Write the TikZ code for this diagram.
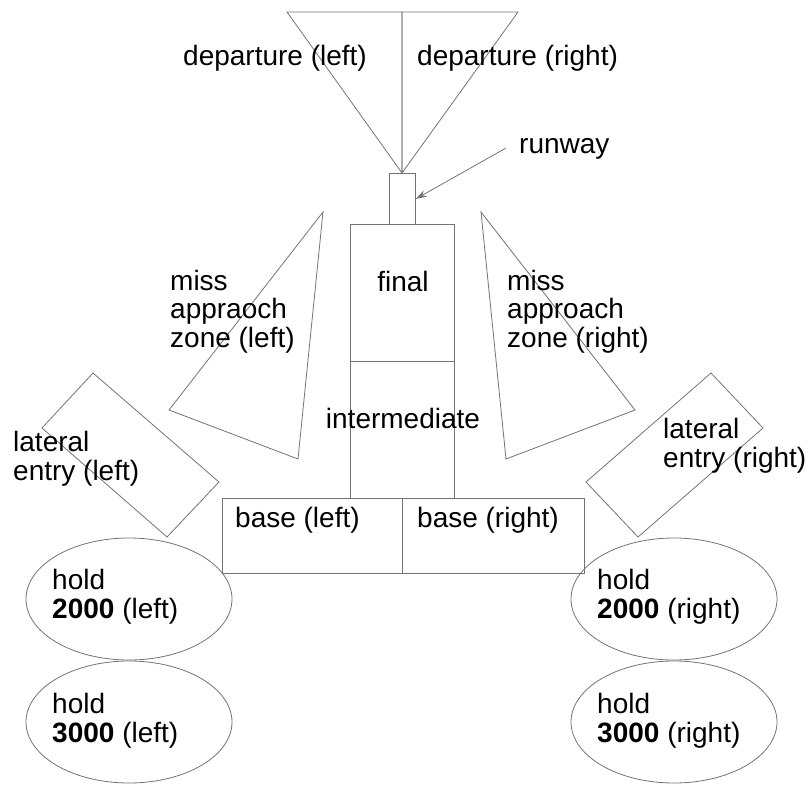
\documentclass[tikz,border=0pt]{standalone}
\usepackage{fontspec}
\setmainfont{Liberation Sans}
\usetikzlibrary{arrows.meta,shapes.geometric}
\begin{document}
\begin{tikzpicture}[x=1pt,y=-1pt,
  zone/.style={draw=black!55,line width=0.8pt,line join=miter},
  lbl/.style={inner sep=0pt,font=\fontsize{28}{28.5}\selectfont,align=left,anchor=base west},
  clbl/.style={inner sep=0pt,font=\fontsize{28}{28.5}\selectfont,anchor=base},
  box/.style={draw=black!55,line width=0.8pt,inner sep=0pt,anchor=north west},
  holdzone/.style={draw=black!55,line width=0.8pt,ellipse,minimum width=206pt,minimum height=122pt,inner sep=0pt}]
\useasboundingbox (0,0) rectangle (809,785);
% departure
\coordinate (dTL) at (287,12);
\coordinate (dTM) at (402,12);
\coordinate (dTR) at (518,12);
\coordinate (dA) at (402,173);
\draw[zone] (dTL) -- (dTM) -- (dA) -- cycle;
\draw[zone] (dTM) -- (dTR) -- (dA) -- cycle;
% boxes
\node[box,minimum width=26pt,minimum height=51pt] (runway) at (389,173) {};
\node[box,minimum width=104pt,minimum height=137pt] (final) at (350,224) {};
\node[box,minimum width=104pt,minimum height=137pt] (inter) at (350,361) {};
\node[box,minimum width=180pt,minimum height=75pt] (baseL) at (222,498) {};
\node[box,minimum width=182pt,minimum height=75pt] (baseR) at (402,498) {};
% miss approach
\coordinate (mL1) at (323,212);
\coordinate (mL2) at (169,410);
\coordinate (mL3) at (298,459);
\draw[zone] (mL1) -- (mL2) -- (mL3) -- cycle;
\coordinate (mR1) at (481,212);
\coordinate (mR2) at (635,410);
\coordinate (mR3) at (506,459);
\draw[zone] (mR1) -- (mR2) -- (mR3) -- cycle;
% lateral entry
\coordinate (lL1) at (93,373);
\coordinate (lL2) at (219,482);
\coordinate (lL3) at (167,537);
\coordinate (lL4) at (42,428);
\draw[zone] (lL1) -- (lL2) -- (lL3) -- (lL4) -- cycle;
\coordinate (lR1) at (711,373);
\coordinate (lR2) at (763,428);
\coordinate (lR3) at (638,537);
\coordinate (lR4) at (586,482);
\draw[zone] (lR1) -- (lR2) -- (lR3) -- (lR4) -- cycle;
% holds
\node[holdzone] (h2L) at (129,599) {};
\node[holdzone] (h3L) at (129,722) {};
\node[holdzone] (h2R) at (674,599) {};
\node[holdzone] (h3R) at (674,722) {};
% labels
\node[lbl] (tdepL) at (183,65) {departure (left)};
\node[lbl] (tdepR) at (417,65) {departure (right)};
\node[lbl] (trun) at (519,153) {runway};
\coordinate (rwtail) at (506,148);
\draw[zone,-{Stealth[length=11pt,width=7pt]}] (rwtail) -- (runway.east);
\node[clbl] (tfinal) at (403,291) {final};
\node[clbl] (tinter) at (403,428) {intermediate};
\node[lbl] (tbaseL) at (235,527) {base (left)};
\node[lbl] (tbaseR) at (417,527) {base (right)};
\node[lbl] (tmissL) at (170,347) {miss\\appraoch\\zone (left)};
\node[lbl] (tmissR) at (507,347) {miss\\approach\\zone (right)};
\node[lbl] (tlatL) at (13,480) {lateral\\entry (left)};
\node[lbl] (tlatR) at (663,467) {lateral\\entry (right)};
\node[lbl] (th2L) at (52,618) {hold\\\textbf{2000} (left)};
\node[lbl] (th3L) at (52,742) {hold\\\textbf{3000} (left)};
\node[lbl] (th2R) at (597,618) {hold\\\textbf{2000} (right)};
\node[lbl] (th3R) at (597,742) {hold\\\textbf{3000} (right)};
\end{tikzpicture}
\end{document}
